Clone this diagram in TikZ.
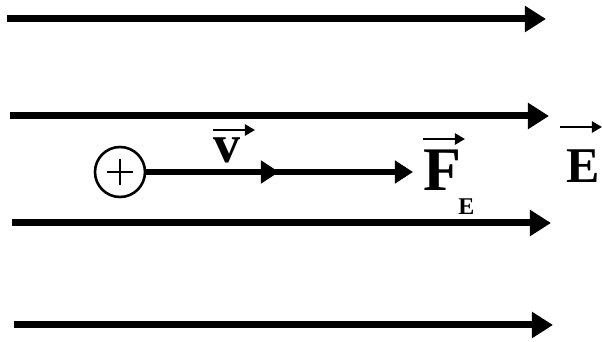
\documentclass[tikz,border=0pt]{standalone}
\usepackage{fontspec}
\setmainfont{Liberation Serif}
\usepackage{tikz}
\usetikzlibrary{arrows.meta}

\begin{document}
\begin{tikzpicture}[x=0.5pt, y=-0.5pt,
    fieldline/.style={line width=3.5pt, -{Triangle[length=10.5pt, width=12.5pt]}},
    chargeline/.style={line width=2.75pt, -{Triangle[length=9pt, width=11pt]}},
    overarrow/.style={line width=1.2pt, -{Triangle[length=5pt, width=5.5pt]}},
    label/.style={inner sep=0pt, anchor=base west, font=\bfseries},
    charge/.style={circle, draw, line width=1.3pt, minimum size=25pt, inner sep=0pt,
      path picture={
        \draw [line width=1.2pt] (path picture bounding box.center) +(-6.5pt,0) -- +(6.5pt,0);
        \draw [line width=1.2pt] (path picture bounding box.center) +(0,-6.5pt) -- +(0,6.5pt);
      }}]

        \useasboundingbox (0,0) rectangle (602,342);

        %Field lines
        \coordinate (a1) at (7,19);    \coordinate (b1) at (546,19);
        \coordinate (a2) at (10,116);  \coordinate (b2) at (549,116);
        \coordinate (a3) at (12,223);  \coordinate (b3) at (551,223);
        \coordinate (a4) at (14,325);  \coordinate (b4) at (553,325);
        \draw [fieldline] (a1) -- (b1);
        \draw [fieldline] (a2) -- (b2);
        \draw [fieldline] (a3) -- (b3);
        \draw [fieldline] (a4) -- (b4);

        %Field label
        \node [label, font=\bfseries\fontsize{25}{25}\selectfont] (E) at (566,183) {E};
        \draw [overarrow] ([xshift=-3pt, yshift=28pt]E.base west) -- ++(42,0);

        %Charge
        \node [charge] (q) at (120,172) {};
        \coordinate (vtip) at (279,172);

        %Velocity
        \node [label, font=\bfseries\fontsize{27}{27}\selectfont] (v) at (213,163) {v};
        \draw [overarrow] ([yshift=16.5pt]v.base west) -- ++(42,0);

        %Force
        \node [label, font=\bfseries\fontsize{31}{31}\selectfont] (F) at (423,191) {F};
        \node [label, font=\bfseries\fontsize{12}{12}\selectfont] (Fsub) at (458,215) {E};
        \draw [overarrow] ([yshift=26pt]F.base west) -- ++(42,0);
        \draw [chargeline, shorten >=5pt] (q) -- (vtip -| F.west);
        \draw [chargeline] (q) -- (vtip);

\end{tikzpicture}
\end{document}
